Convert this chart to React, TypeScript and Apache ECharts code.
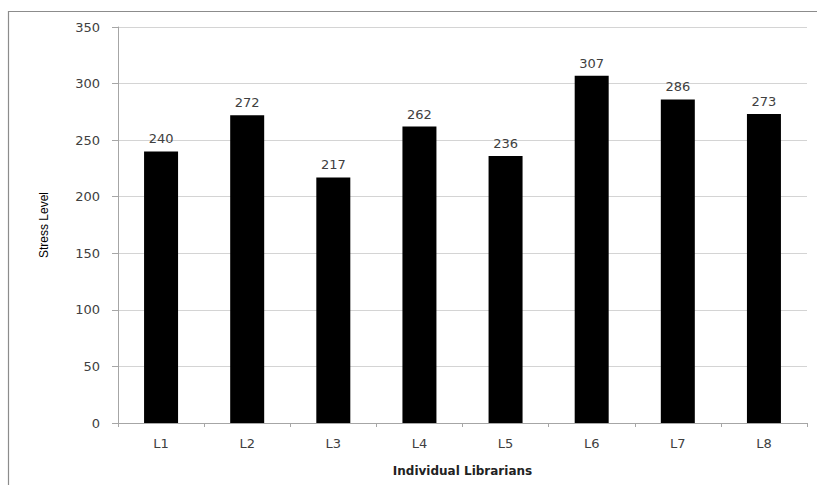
import React, { useEffect, useRef } from "react";
import * as echarts from "echarts";

const categories = ["L1", "L2", "L3", "L4", "L5", "L6", "L7", "L8"];
const stressValues = [240, 272, 217, 262, 236, 307, 286, 273];
const yMin = 0;
const yMax = 350;
const yInterval = 50;

export default function App() {
  const ref = useRef<HTMLDivElement>(null);
  useEffect(() => {
    if (!ref.current) return;
    const chart = echarts.init(ref.current, null, { renderer: "svg" });
    chart.setOption({
      animation: false,
      backgroundColor: "#ffffff",
      graphic: [
        {
          type: "rect",
          shape: { x: 8.5, y: 11.5, width: 830, height: 490 },
          style: { fill: "none", stroke: "#8c8c8c", lineWidth: 1.2 },
          silent: true,
        },
      ],
      grid: { left: 118, top: 27, right: 10, bottom: 62, containLabel: false },
      xAxis: {
        type: "category",
        data: categories,
        name: "Individual Librarians",
        nameLocation: "middle",
        nameGap: 42,
        nameTextStyle: { fontFamily: "DejaVu Sans", fontWeight: "bold", fontSize: 12, color: "#222" },
        axisLine: { lineStyle: { color: "#a6a6a6", width: 1 } },
        axisTick: { show: true, alignWithLabel: false, length: 4, lineStyle: { color: "#a6a6a6" } },
        axisLabel: { fontFamily: "DejaVu Sans", fontSize: 13, color: "#404040", margin: 14 },
      },
      yAxis: {
        type: "value",
        min: yMin,
        max: yMax,
        interval: yInterval,
        name: "Stress Level",
        nameLocation: "middle",
        nameGap: 68,
        nameRotate: 90,
        nameTextStyle: { fontFamily: "Liberation Sans", fontWeight: "normal", fontSize: 12, color: "#000" },
        axisLine: { show: true, lineStyle: { color: "#a6a6a6", width: 1 } },
        axisTick: { show: true, length: 6, lineStyle: { color: "#a6a6a6" } },
        axisLabel: { fontFamily: "DejaVu Sans", fontSize: 13, color: "#404040", margin: 18 },
        splitLine: { lineStyle: { color: "#d4d4d4", width: 1.2 } },
      },
      series: [
        {
          type: "bar",
          data: stressValues,
          barWidth: 34,
          itemStyle: { color: "#000000" },
          label: {
            show: true,
            position: "top",
            distance: 6,
            fontFamily: "DejaVu Sans",
            fontSize: 13,
            color: "#404040",
          },
        },
      ],
    });
    return () => chart.dispose();
  }, []);
  return (
    <div
      ref={ref}
      style={{ position: "fixed", left: 0, top: 0, width: 817, height: 485 }}
    />
  );
}
